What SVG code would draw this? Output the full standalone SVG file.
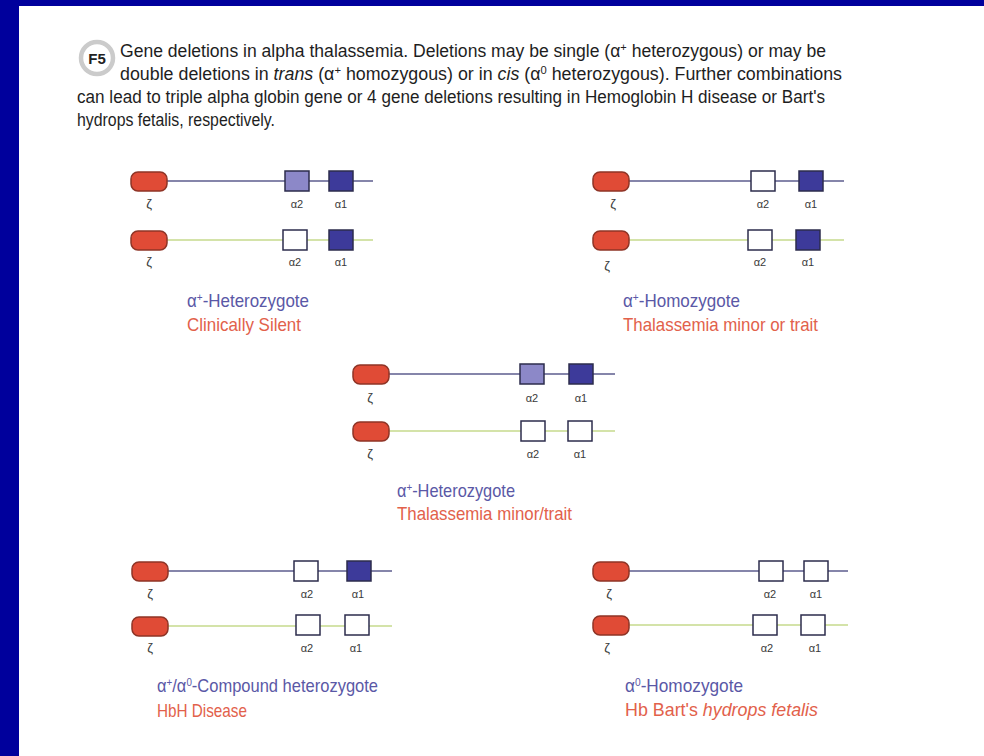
<svg xmlns="http://www.w3.org/2000/svg" width="984" height="756" viewBox="0 0 984 756">
<style>
.cap{font-family:"Liberation Sans",Arial,sans-serif;font-size:17.5px;fill:#1e1e1e}
.it{font-style:italic}
.sup{font-size:11px}
.zeta{fill:#e04b36;stroke:#8e3426;stroke-width:1.5}
.l1{stroke:#5c5c8e;stroke-width:1.5}
.l2{stroke:#c6da8c;stroke-width:1.5}
.bx{stroke:#2c2c4c;stroke-width:1.5}
.lav{fill:#8c88c8}
.dk{fill:#3d3a9a}
.wh{fill:#ffffff}
.lab{font-family:"Liberation Sans",Arial,sans-serif;font-size:11px;fill:#3a3a3a;text-anchor:middle}
.z{font-size:13px}
.t1{font-family:"Liberation Sans",Arial,sans-serif;font-size:18.5px;fill:#5a58a6}
.t2{font-family:"Liberation Sans",Arial,sans-serif;font-size:18.5px;fill:#e2614b}
</style>
<rect x="0" y="0" width="984" height="756" fill="#00009c"/>
<rect x="19" y="6" width="965" height="750" fill="#ffffff"/>

<g id="caption">
  <circle cx="97" cy="58" r="16" fill="#ffffff" stroke="#cbcbcb" stroke-width="4.5"/>
  <text x="97" y="64" text-anchor="middle" style="font-family:'Liberation Sans',Arial,sans-serif;font-size:15px;font-weight:bold;fill:#222">F5</text>
  <text class="cap" x="120" y="57" textLength="706" lengthAdjust="spacingAndGlyphs">Gene deletions in alpha thalassemia. Deletions may be single (α<tspan class="sup" baseline-shift="super">+</tspan> heterozygous) or may be</text>
  <text class="cap" x="120" y="80" textLength="722" lengthAdjust="spacingAndGlyphs">double deletions in <tspan class="it">trans</tspan> (α<tspan class="sup" baseline-shift="super">+</tspan> homozygous) or in <tspan class="it">cis</tspan> (α<tspan class="sup" baseline-shift="super">0</tspan> heterozygous). Further combinations</text>
  <text class="cap" x="77" y="103" textLength="748" lengthAdjust="spacingAndGlyphs">can lead to triple alpha globin gene or 4 gene deletions resulting in Hemoglobin H disease or Bart's</text>
  <text class="cap" x="77" y="126" textLength="198" lengthAdjust="spacingAndGlyphs">hydrops fetalis, respectively.</text>
</g>

<g id="connectors">
  <line class="l1" x1="150" y1="181" x2="373" y2="181"/>
  <line class="l2" x1="150" y1="240" x2="373" y2="240"/>
  <line class="l1" x1="611" y1="181" x2="844" y2="181"/>
  <line class="l2" x1="611" y1="240" x2="844" y2="240"/>
  <line class="l1" x1="371" y1="374" x2="615" y2="374"/>
  <line class="l2" x1="371" y1="431" x2="615" y2="431"/>
  <line class="l1" x1="150" y1="571" x2="392" y2="571"/>
  <line class="l2" x1="150" y1="626" x2="392" y2="626"/>
  <line class="l1" x1="611" y1="571" x2="848" y2="571"/>
  <line class="l2" x1="611" y1="625" x2="848" y2="625"/>
</g>

<g id="panel-het-silent">
  <rect class="zeta" x="131" y="172" width="36" height="19" rx="7"/>
  <rect class="bx lav" x="285" y="171" width="24" height="20"/>
  <rect class="bx dk" x="329" y="171" width="24" height="20"/>
  <text class="lab z" x="149" y="208">ζ</text>
  <text class="lab" x="297" y="208">α2</text>
  <text class="lab" x="341" y="208">α1</text>
  <rect class="zeta" x="131" y="231" width="36" height="19" rx="7"/>
  <rect class="bx wh" x="283" y="230" width="24" height="20"/>
  <rect class="bx dk" x="329" y="230" width="24" height="20"/>
  <text class="lab z" x="149" y="266">ζ</text>
  <text class="lab" x="295" y="266">α2</text>
  <text class="lab" x="341" y="266">α1</text>
  <text class="t1" x="187" y="307" textLength="122" lengthAdjust="spacingAndGlyphs">α<tspan class="sup" baseline-shift="super">+</tspan>-Heterozygote</text>
  <text class="t2" x="187" y="331" textLength="114" lengthAdjust="spacingAndGlyphs">Clinically Silent</text>
</g>

<g id="panel-homozygote-trait">
  <rect class="zeta" x="593" y="172" width="36" height="19" rx="7"/>
  <rect class="bx wh" x="751" y="171" width="24" height="20"/>
  <rect class="bx dk" x="799" y="171" width="24" height="20"/>
  <text class="lab z" x="613" y="208">ζ</text>
  <text class="lab" x="763" y="208">α2</text>
  <text class="lab" x="811" y="208">α1</text>
  <rect class="zeta" x="593" y="231" width="36" height="19" rx="7"/>
  <rect class="bx wh" x="748" y="230" width="24" height="20"/>
  <rect class="bx dk" x="796" y="230" width="24" height="20"/>
  <text class="lab z" x="607" y="270">ζ</text>
  <text class="lab" x="760" y="266">α2</text>
  <text class="lab" x="808" y="266">α1</text>
  <text class="t1" x="623" y="307" textLength="117" lengthAdjust="spacingAndGlyphs">α<tspan class="sup" baseline-shift="super">+</tspan>-Homozygote</text>
  <text class="t2" x="623" y="331" textLength="195" lengthAdjust="spacingAndGlyphs">Thalassemia minor or trait</text>
</g>

<g id="panel-het-trait">
  <rect class="zeta" x="353" y="365" width="36" height="19" rx="7"/>
  <rect class="bx lav" x="520" y="364" width="24" height="20"/>
  <rect class="bx dk" x="569" y="364" width="24" height="20"/>
  <text class="lab z" x="370" y="402">ζ</text>
  <text class="lab" x="532" y="402">α2</text>
  <text class="lab" x="581" y="402">α1</text>
  <rect class="zeta" x="353" y="422" width="36" height="19" rx="7"/>
  <rect class="bx wh" x="521" y="421" width="24" height="20"/>
  <rect class="bx wh" x="568" y="421" width="24" height="20"/>
  <text class="lab z" x="370" y="458">ζ</text>
  <text class="lab" x="533" y="458">α2</text>
  <text class="lab" x="580" y="458">α1</text>
  <text class="t1" x="397" y="497" textLength="118" lengthAdjust="spacingAndGlyphs">α<tspan class="sup" baseline-shift="super">+</tspan>-Heterozygote</text>
  <text class="t2" x="397" y="520" textLength="175" lengthAdjust="spacingAndGlyphs">Thalassemia minor/trait</text>
</g>

<g id="panel-hbh">
  <rect class="zeta" x="132" y="562" width="36" height="19" rx="7"/>
  <rect class="bx wh" x="294" y="561" width="24" height="20"/>
  <rect class="bx dk" x="347" y="561" width="24" height="20"/>
  <text class="lab z" x="150" y="598">ζ</text>
  <text class="lab" x="307" y="598">α2</text>
  <text class="lab" x="358" y="598">α1</text>
  <rect class="zeta" x="132" y="617" width="36" height="19" rx="7"/>
  <rect class="bx wh" x="296" y="615" width="24" height="20"/>
  <rect class="bx wh" x="345" y="615" width="24" height="20"/>
  <text class="lab z" x="150" y="652">ζ</text>
  <text class="lab" x="307" y="652">α2</text>
  <text class="lab" x="356" y="652">α1</text>
  <text class="t1" x="157" y="692" textLength="221" lengthAdjust="spacingAndGlyphs">α<tspan class="sup" baseline-shift="super">+</tspan>/α<tspan class="sup" baseline-shift="super">0</tspan>-Compound heterozygote</text>
  <text class="t2" x="157" y="717" textLength="90" lengthAdjust="spacingAndGlyphs">HbH Disease</text>
</g>

<g id="panel-barts">
  <rect class="zeta" x="593" y="562" width="36" height="19" rx="7"/>
  <rect class="bx wh" x="759" y="561" width="24" height="20"/>
  <rect class="bx wh" x="804" y="561" width="24" height="20"/>
  <text class="lab z" x="609" y="598">ζ</text>
  <text class="lab" x="770" y="598">α2</text>
  <text class="lab" x="816" y="598">α1</text>
  <rect class="zeta" x="593" y="616" width="36" height="19" rx="7"/>
  <rect class="bx wh" x="753" y="615" width="24" height="20"/>
  <rect class="bx wh" x="801" y="615" width="24" height="20"/>
  <text class="lab z" x="607" y="652">ζ</text>
  <text class="lab" x="767" y="652">α2</text>
  <text class="lab" x="815" y="652">α1</text>
  <text class="t1" x="625" y="692" textLength="118" lengthAdjust="spacingAndGlyphs">α<tspan class="sup" baseline-shift="super">0</tspan>-Homozygote</text>
  <text class="t2" x="625" y="716" textLength="193" lengthAdjust="spacingAndGlyphs">Hb Bart's <tspan class="it">hydrops fetalis</tspan></text>
</g>
</svg>
